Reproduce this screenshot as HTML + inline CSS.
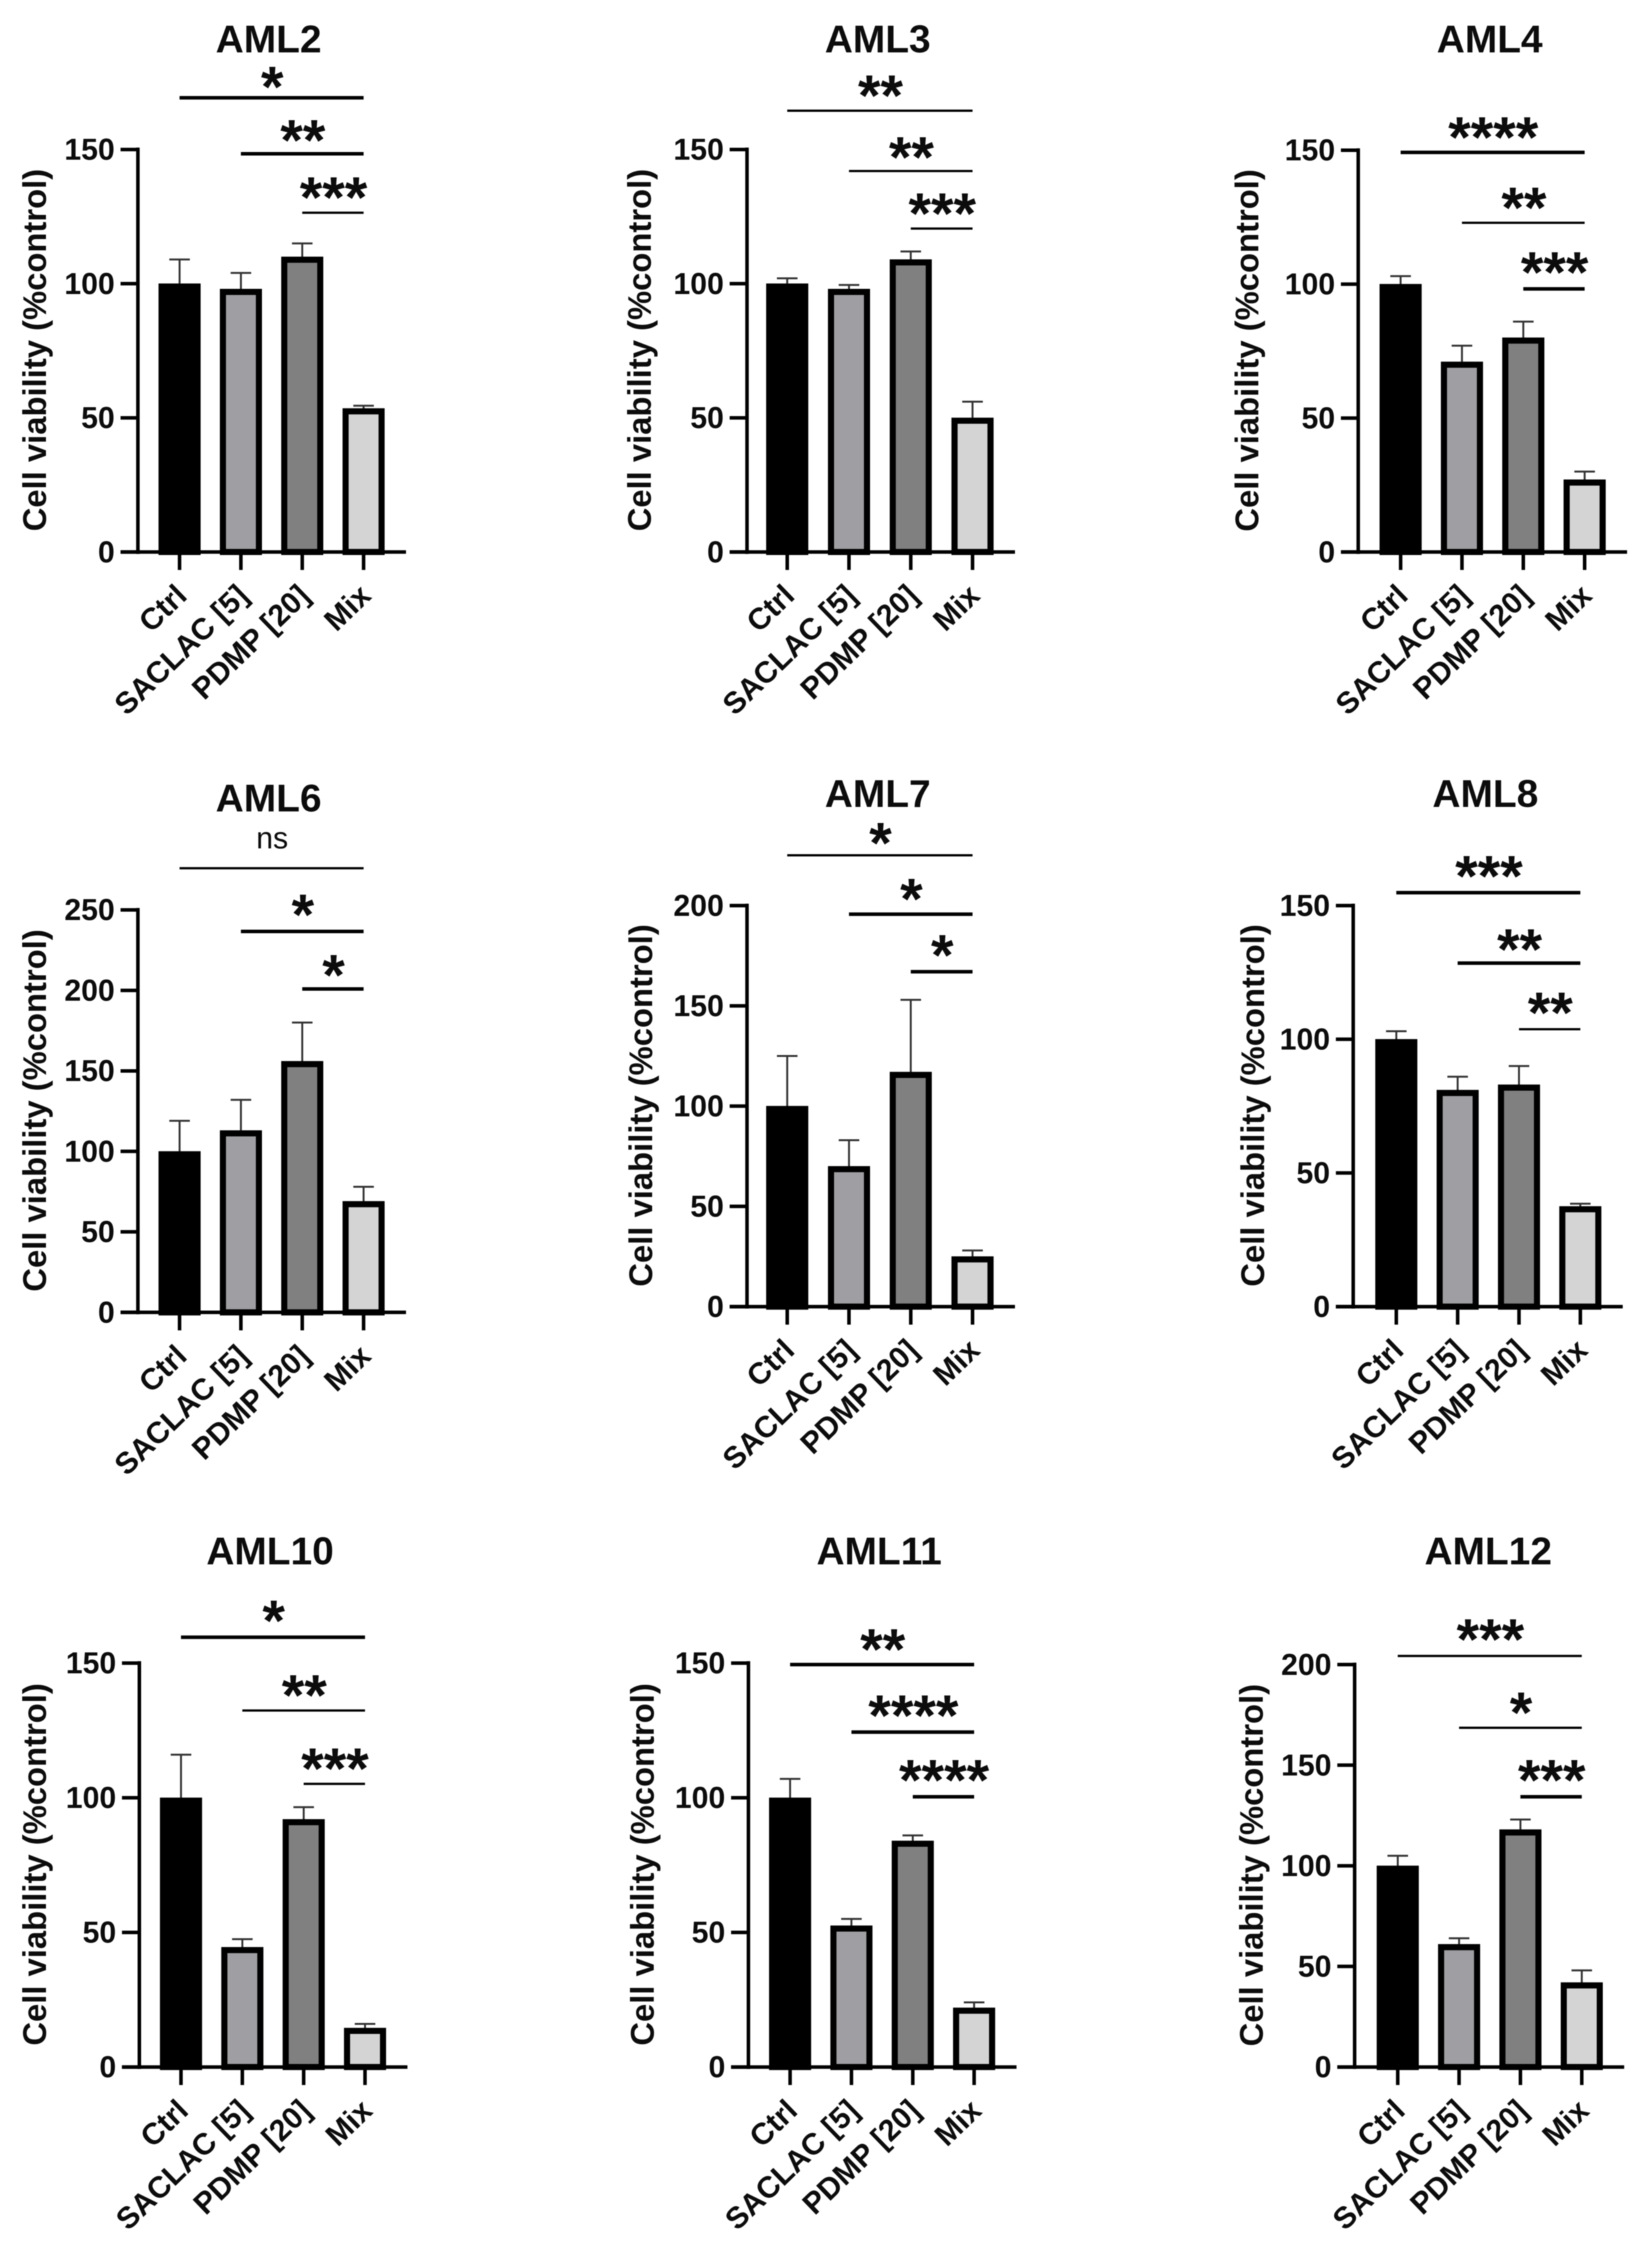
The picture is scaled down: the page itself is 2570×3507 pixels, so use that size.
<!DOCTYPE html>
<html lang="en">
<head>
<meta charset="utf-8">
<title>Cell viability panels</title>
<style>
html,body{margin:0;padding:0;background:#fff;}
#figure{display:block;width:2570px;height:3507px;filter:blur(0.7px);}
text{font-family:"Liberation Sans",Arial,sans-serif;fill:#0c0c0c;}
</style>
</head>
<body>
<svg id="figure" xmlns="http://www.w3.org/2000/svg" width="2570" height="3507" viewBox="0 0 2570 3507"></svg>
<script>
const categories = ['Ctrl', 'SACLAC [5]', 'PDMP [20]', 'Mix'];
const panelTitles = ['AML2', 'AML3', 'AML4', 'AML6', 'AML7', 'AML8', 'AML10', 'AML11', 'AML12'];
const yAxisTitle = 'Cell viability (%control)';

const aml2Values = [100, 98, 110, 53.5];
const aml3Values = [100, 98, 109, 50];
const aml4Values = [100, 71, 80, 27];
const aml6Values = [100, 113, 156, 69];
const aml7Values = [100, 70, 117, 25];
const aml8Values = [100, 81, 83, 37.5];
const aml10Values = [100, 44.5, 92, 14.5];
const aml11Values = [100, 52.5, 84, 22];
const aml12Values = [100, 61, 118, 42];

const aml2Errors = [9, 6, 5, 1];
const aml3Errors = [2, 1.5, 3, 6];
const aml4Errors = [3, 6, 6, 3];
const aml6Errors = [19, 19, 24, 9];
const aml7Errors = [25, 13, 36, 3];
const aml8Errors = [3, 5, 7, 1];
const aml10Errors = [16, 3, 4.5, 1.5];
const aml11Errors = [7, 2.5, 2, 2];
const aml12Errors = [5, 3, 5, 6];

const ticks150 = [0, 50, 100, 150];
const ticks200 = [0, 50, 100, 150, 200];
const ticks250 = [0, 50, 100, 150, 200, 250];

const aml2Sig = ['*', '**', '***'];
const aml3Sig = ['**', '**', '***'];
const aml4Sig = ['****', '**', '***'];
const aml6Sig = ['ns', '*', '*'];
const aml7Sig = ['*', '*', '*'];
const aml8Sig = ['***', '**', '**'];
const aml10Sig = ['*', '**', '***'];
const aml11Sig = ['**', '****', '****'];
const aml12Sig = ['***', '*', '***'];

const allValues = [aml2Values, aml3Values, aml4Values, aml6Values, aml7Values, aml8Values, aml10Values, aml11Values, aml12Values];
const allErrors = [aml2Errors, aml3Errors, aml4Errors, aml6Errors, aml7Errors, aml8Errors, aml10Errors, aml11Errors, aml12Errors];
const allTicks = [ticks150, ticks150, ticks150, ticks250, ticks200, ticks150, ticks150, ticks150, ticks200];
const allSig = [aml2Sig, aml3Sig, aml4Sig, aml6Sig, aml7Sig, aml8Sig, aml10Sig, aml11Sig, aml12Sig];

/* Panel geometry in layout units, scaled by U / UY to output pixels (not data). */
const U = 2.2348;
const UY = 2.2365;
const panelGeometry = [
  {ax:96,  yt:32,  top:104, bot:384, c0:125, step:42.7, title:[187,27],  lines:[68,107,148],   labels:[55,92,132],    w:[1,1,0]},
  {ax:520, yt:453, top:104, bot:384, c0:548, step:43,   title:[611,27],  lines:[77,119,159],   labels:[61,104,143],   w:[0,0,0]},
  {ax:945.5,yt:876,top:104.5,bot:384,c0:975, step:42.7, title:[1037,27], lines:[106,155,201],  labels:[90,139,184],   w:[1,0,1]},
  {ax:96,  yt:32,  top:633, bot:913, c0:125, step:42.7, title:[187,555], lines:[604,648,688],  labels:[584,631,673],  w:[0,1,1]},
  {ax:520, yt:454, top:630, bot:909, c0:548, step:43,   title:[611,552], lines:[595,636,676],  labels:[581,620,659],  w:[0,1,1]},
  {ax:942, yt:880, top:630, bot:909, c0:972, step:42.7, title:[1034,552],lines:[621,670,716],  labels:[604,655,699],  w:[1,1,0]},
  {ax:97,  yt:32,  top:1157,bot:1438,c0:126, step:42.7, title:[188,1079],lines:[1139,1190,1241],labels:[1122,1174,1225],w:[1,0,0]},
  {ax:521, yt:455, top:1157,bot:1438,c0:550, step:42.7, title:[612,1079],lines:[1158,1205,1250],labels:[1142,1188,1233],w:[1,1,1]},
  {ax:943, yt:879, top:1158,bot:1438,c0:973, step:42.7, title:[1036,1079],lines:[1152,1202,1250],labels:[1135,1186,1233],w:[0,0,1]}
];
const barFills = ['#000000', '#9f9fa3', '#808080', '#d4d4d4'];
const NS = 'http://www.w3.org/2000/svg';
const svg = document.getElementById('figure');

function make(tag, parent, attrs, content) {
  const node = document.createElementNS(NS, tag);
  for (const k in attrs) node.setAttribute(k, attrs[k]);
  if (content !== undefined) node.textContent = content;
  parent.appendChild(node);
  return node;
}

function drawPanel(p) {
  const g = panelGeometry[p];
  const values = allValues[p];
  const errors = allErrors[p];
  const ticks = allTicks[p];
  const sig = allSig[p];
  const slug = panelTitles[p].toLowerCase();
  const yMax = ticks[ticks.length - 1];
  const axisX = g.ax * U;
  const top = g.top * UY;
  const bottom = g.bot * UY;
  const yScale = v => bottom - (v / yMax) * (bottom - top);
  const xScale = i => (g.c0 + i * g.step) * U;
  const axisEnd = xScale(3) + 66;

  const panel = make('g', svg, {});
  
  

  const title = make('text', panel, {x: g.title[0] * U, y: g.title[1] * UY + 21, 'text-anchor': 'middle', 'font-size': 60.5, 'font-weight': 'bold'}, panelTitles[p]);
  
  

  const yMid = (top + bottom) / 2 - 1;
  const yTitleX = g.yt * U;
  const yTitle = make('text', panel, {x: yTitleX, y: yMid, 'text-anchor': 'middle', 'font-size': 51, 'font-weight': 'bold', transform: 'rotate(-90 ' + yTitleX + ' ' + yMid + ')'}, yAxisTitle);
  
  

  values.forEach((v, i) => {
    const cx = xScale(i);
    const errTop = yScale(v + errors[i]);
    const errBase = yScale(v);
    const errLine = make('line', panel, {x1: cx, x2: cx, y1: errBase, y2: errTop, stroke: '#333', 'stroke-width': 3});
    
    
    const errCap = make('line', panel, {x1: cx - 16, x2: cx + 16, y1: errTop, y2: errTop, stroke: '#333', 'stroke-width': 3});
    
    
    const bar = make('rect', panel, {x: cx - 28, y: errBase + 4.5, width: 56, height: Math.max(0, bottom - errBase - 4.5), fill: barFills[i], stroke: '#000', 'stroke-width': 9.5});
    
    
  });

  const yAxis = make('line', panel, {x1: axisX, x2: axisX, y1: top - 3, y2: bottom + 3, stroke: '#000', 'stroke-width': 5.5});
  
  
  const xAxis = make('line', panel, {x1: axisX - 27, x2: axisEnd, y1: bottom, y2: bottom, stroke: '#000', 'stroke-width': 5.5});
  
  

  ticks.forEach(t => {
    const y = yScale(t);
    const mark = make('line', panel, {x1: axisX - 27, x2: axisX, y1: y, y2: y, stroke: '#000', 'stroke-width': 5.5});
    
    
    const lab = make('text', panel, {x: axisX - 36, y: y + 16, 'text-anchor': 'end', 'font-size': 47, 'font-weight': 'bold'}, String(t));
    
    
  });

  categories.forEach((c, i) => {
    const cx = xScale(i);
    const mark = make('line', panel, {x1: cx, x2: cx, y1: bottom, y2: bottom + 28, stroke: '#000', 'stroke-width': 5.5});
    
    
    const lx = cx + 14;
    const ly = bottom + 71;
    const lab = make('text', panel, {x: lx, y: ly, 'text-anchor': 'end', 'font-size': 47, 'font-weight': 'bold', transform: 'rotate(-44 ' + lx + ' ' + ly + ')'}, c);
    
    
  });

  sig.forEach((s, i) => {
    const x1 = xScale(i);
    const x2 = xScale(3);
    const ly = g.lines[i] * UY;
    const rule = make('line', panel, {x1: x1, x2: x2, y1: ly, y2: ly, stroke: '#000', 'stroke-width': g.w[i] ? 5.5 : 3.5});
    
    
    const mx = (x1 + x2) / 2 + 1;
    const cy = g.labels[i] * UY;
    const isNs = s === 'ns';
    const mark = make('text', panel, {x: mx, y: isNs ? cy + 14 : cy + 43, 'text-anchor': 'middle', 'font-size': isNs ? 47 : 90, 'font-weight': isNs ? 'normal' : 'bold'}, s);
    
    
  });
}

panelTitles.forEach((_, p) => drawPanel(p));
</script>
</body>
</html>
